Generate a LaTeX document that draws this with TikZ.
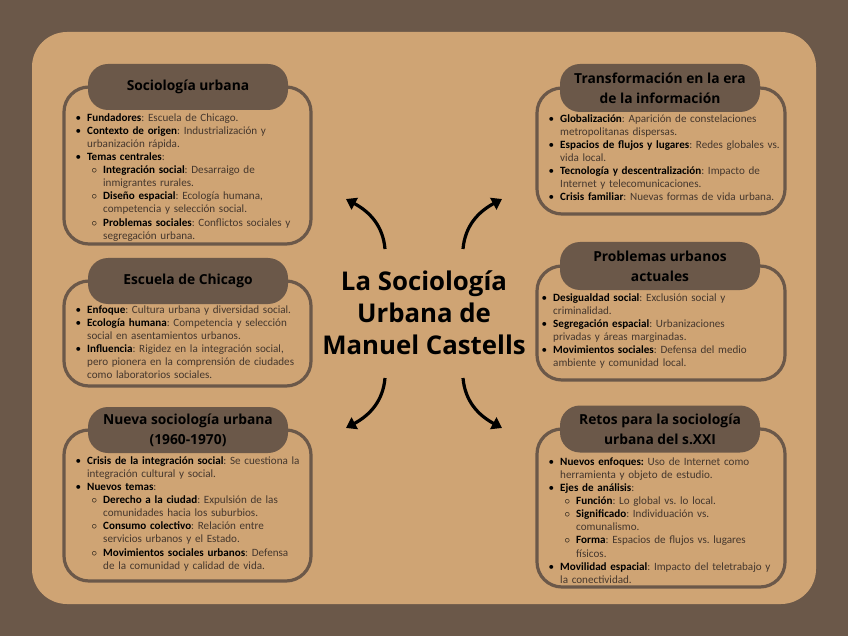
\documentclass[tikz,border=0pt]{standalone}
\usepackage{fontspec}
\setmainfont{Carlito}
\newfontfamily\osans{Open Sans}
\usetikzlibrary{arrows.meta}
\definecolor{bgbrown}{HTML}{6B5849}
\definecolor{tanbg}{HTML}{CFA474}
\definecolor{bodytxt}{HTML}{45372D}
\newcommand\kw[1]{\textcolor{black}{\textbf{#1}}}
\newenvironment{blist}{\begin{list}{\textcolor{black}{\textbullet}}{\setlength\leftmargin{12pt}\setlength\labelwidth{6pt}\setlength\labelsep{6pt}\setlength\itemsep{0pt}\setlength\parsep{0pt}\setlength\topsep{0pt}\setlength\partopsep{0pt}\setlength\itemindent{0pt}}\raggedright\frenchspacing}{\end{list}}
\newenvironment{clist}{\begin{list}{\textcolor{black}{$\circ$}}{\setlength\leftmargin{16pt}\setlength\labelwidth{10pt}\setlength\labelsep{6pt}\setlength\itemsep{0pt}\setlength\parsep{0pt}\setlength\topsep{0pt}\setlength\partopsep{0pt}\setlength\itemindent{0pt}}\raggedright\frenchspacing}{\end{list}}
\tikzset{
  pill/.style={fill=bgbrown, rounded corners=20pt, minimum width=200pt, inner sep=0pt, align=center, text=black, font=\osans\bfseries\fontsize{13.8}{20}\selectfont},
  frame/.style={draw=bgbrown, line width=3.2pt, rounded corners=25pt},
  body/.style={anchor=north west, inner sep=0pt, text width=240pt, text=bodytxt, font=\fontsize{11.1}{13.1}\selectfont},
  conn/.style={line width=3.2pt, -{Triangle[length=10pt,width=13pt]}}
}
\begin{document}
\begin{tikzpicture}[x=1pt,y=-1pt]
\useasboundingbox (0,0) rectangle (848,636);
\fill[bgbrown] (0,0) rectangle (848,636);
\fill[tanbg, rounded corners=35pt] (32,32) rectangle (816,604);

% frames
\draw[frame] (64,87) rectangle (311,244);
\draw[frame] (64,281) rectangle (311,386);
\draw[frame] (64,430) rectangle (311,581);
\draw[frame] (537,88) rectangle (785,214);
\draw[frame] (537,266) rectangle (785,380);
\draw[frame] (537,429) rectangle (785,587);

% pills
\node[pill, minimum height=46pt] (t1) at (188,87) {Sociología urbana};
\node[pill, minimum height=46pt] (t2) at (188,281) {Escuela de Chicago};
\node[pill, minimum height=46pt] (t3) at (188,430) {Nueva sociología urbana\\(1960-1970)};
\node[pill, minimum height=48pt] (t4) at (660,88) {Transformación en la era\\de la información};
\node[pill, minimum height=48pt] (t5) at (660,266) {Problemas urbanos\\actuales};
\node[pill, minimum height=47pt] (t6) at (660,429) {Retos para la sociología\\urbana del s.XXI};

% bodies
\node[body] (b1) at (75,108) {\begin{blist}
\item \kw{Fundadores}: Escuela de Chicago.
\item \kw{Contexto de origen}: Industrialización y\newline urbanización rápida.
\item \kw{Temas centrales}:
\begin{clist}
\item \kw{Integración social}: Desarraigo de\newline inmigrantes rurales.
\item \kw{Diseño espacial}: Ecología humana,\newline competencia y selección social.
\item \kw{Problemas sociales}: Conflictos sociales y\newline segregación urbana.
\end{clist}
\end{blist}};

\node[body] (b2) at (75,300) {\begin{blist}
\item \kw{Enfoque}: Cultura urbana y diversidad social.
\item \kw{Ecología humana}: Competencia y selección\newline social en asentamientos urbanos.
\item \kw{Influencia}: Rigidez en la integración social,\newline pero pionera en la comprensión de ciudades\newline como laboratorios sociales.
\end{blist}};

\node[body] (b3) at (75,451) {\begin{blist}
\item \kw{Crisis de la integración social}: Se cuestiona la\newline integración cultural y social.
\item \kw{Nuevos temas}:
\begin{clist}
\item \kw{Derecho a la ciudad}: Expulsión de las\newline comunidades hacia los suburbios.
\item \kw{Consumo colectivo}: Relación entre\newline servicios urbanos y el Estado.
\item \kw{Movimientos sociales urbanos}: Defensa\newline de la comunidad y calidad de vida.
\end{clist}
\end{blist}};

\node[body] (b4) at (548,109) {\begin{blist}
\item \kw{Globalización}: Aparición de constelaciones\newline metropolitanas dispersas.
\item \kw{Espacios de flujos y lugares}: Redes globales vs.\newline vida local.
\item \kw{Tecnología y descentralización}: Impacto de\newline Internet y telecomunicaciones.
\item \kw{Crisis familiar}: Nuevas formas de vida urbana.
\end{blist}};

\node[body] (b5) at (541,288) {\begin{blist}
\item \kw{Desigualdad social}: Exclusión social y\newline criminalidad.
\item \kw{Segregación espacial}: Urbanizaciones\newline privadas y áreas marginadas.
\item \kw{Movimientos sociales}: Defensa del medio\newline ambiente y comunidad local.
\end{blist}};

\node[body] (b6) at (548,452) {\begin{blist}
\item \kw{Nuevos enfoques:} Uso de Internet como\newline herramienta y objeto de estudio.
\item \kw{Ejes de análisis}:
\begin{clist}
\item \kw{Función}: Lo global vs. lo local.
\item \kw{Significado}: Individuación vs.\newline comunalismo.
\item \kw{Forma}: Espacios de flujos vs. lugares\newline físicos.
\end{clist}
\item \kw{Movilidad espacial}: Impacto del teletrabajo y\newline la conectividad.
\end{blist}};

% center
\node[align=center, inner sep=0pt, text=black, font=\osans\bfseries\fontsize{25.8}{32}\selectfont] (c) at (424,313) {La Sociología\\Urbana de\\Manuel Castells};

% connectors
\coordinate (s1) at (385,249); \coordinate (e1) at (346,199);
\coordinate (s2) at (463,249); \coordinate (e2) at (502,199);
\coordinate (s3) at (385,378); \coordinate (e3) at (346,428);
\coordinate (s4) at (463,378); \coordinate (e4) at (502,428);
\draw[conn] (s1) .. controls (383,226) and (370,212) .. (e1);
\draw[conn] (s2) .. controls (465,226) and (478,212) .. (e2);
\draw[conn] (s3) .. controls (383,401) and (370,415) .. (e3);
\draw[conn] (s4) .. controls (465,401) and (478,415) .. (e4);
\end{tikzpicture}
\end{document}
